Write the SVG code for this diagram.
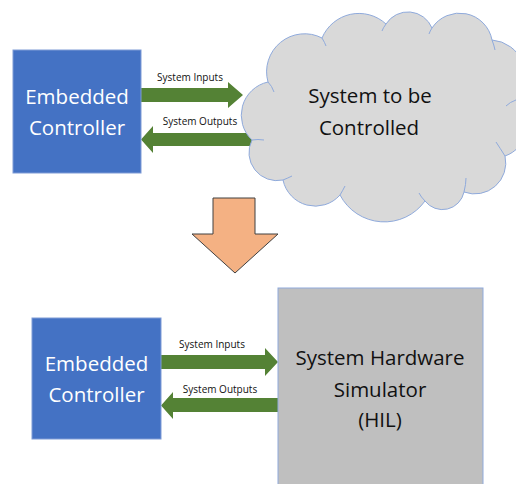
<svg xmlns="http://www.w3.org/2000/svg" width="516" height="484" viewBox="0 0 516 484">
<style>
.blue{fill:#4472c4;stroke:#7e9bd6;stroke-width:1}
.wt{font-family:"Open Sans","Noto Sans",sans-serif;font-size:20.5px;fill:#ffffff;text-anchor:middle}
.bt{font-family:"Open Sans","Noto Sans",sans-serif;font-size:20.5px;fill:#111111;text-anchor:middle}
.lbl{font-family:"Open Sans","Noto Sans",sans-serif;font-size:10px;fill:#111111;text-anchor:middle}
.green{fill:#548235}
.cloud{fill:#d9d9d9;stroke:#8faadc;stroke-width:1}
.inner{fill:none;stroke:#8faadc;stroke-width:1}
</style>
<rect width="516" height="484" fill="#ffffff"/>
<g id="connectors">
  <polygon class="green" points="141,88 228,88 228,82 243,95 228,108 228,102 141,102"/>
  <polygon class="green" points="141,139.5 153,126 153,133 256,133 256,146 153,146 153,153"/>
  <polygon class="green" points="161,355 265,355 265,348 278,362 265,376 265,369 161,369"/>
  <polygon class="green" points="161,405.5 173,392 173,398 278,398 278,412 173,412 173,419"/>
  <text class="lbl" x="190" y="81">System Inputs</text>
  <text class="lbl" x="200" y="125">System Outputs</text>
  <text class="lbl" x="212" y="348">System Inputs</text>
  <text class="lbl" x="220" y="393">System Outputs</text>
</g>
<g id="top-controller">
  <rect class="blue" x="13" y="50" width="128" height="123"/>
  <text class="wt" x="77" y="104">Embedded</text>
  <text class="wt" x="77" y="135">Controller</text>
</g>
<g id="cloud">
  <path class="cloud" d="M268,82 A38,38 0 0 1 322,38 A40,40 0 0 1 386,24 A26,26 0 0 1 432,28 A33,33 0 0 1 492,40 A36,36 0 0 1 516,100 A33,33 0 0 1 505,156 A31,31 0 0 1 464,192 A22,22 0 0 1 425,201 A50,50 0 0 1 340,195 A33,33 0 0 1 283,180 A28,28 0 0 1 252,140 A34,34 0 0 1 268,82 Z"/>
  <path class="inner" d="M268,82 Q272,86 274,92 M322,38 Q325,43 326,46 M386,24 Q383,28 382,31 M432,28 Q430,31 429,34 M492,40 Q494,45 495,50 M516,100 Q510,102 506,106 M505,156 Q500,148 496,142 M464,192 Q466,184 466,178 M425,201 Q421,197 419,193 M340,195 Q343,190 345,186 M283,180 Q288,178 292,176 M252,140 Q258,139 264,140"/>
  <text class="bt" x="370" y="103">System to be</text>
  <text class="bt" x="369" y="135">Controlled</text>
</g>
<g id="down-arrow">
  <polygon points="213,198 255,198 255,234 278,234 235,273 192,234 213,234" fill="#f4b183" stroke="#404040" stroke-width="1"/>
</g>
<g id="bottom-controller">
  <rect class="blue" x="32" y="318" width="129" height="121"/>
  <text class="wt" x="96.5" y="371">Embedded</text>
  <text class="wt" x="96.5" y="402">Controller</text>
</g>
<g id="hil">
  <rect x="278" y="288" width="205" height="210" fill="#bfbfbf" stroke="#8faadc" stroke-width="1"/>
  <text class="bt" x="380" y="365">System Hardware</text>
  <text class="bt" x="380" y="397">Simulator</text>
  <text class="bt" x="380" y="427">(HIL)</text>
</g>
</svg>
